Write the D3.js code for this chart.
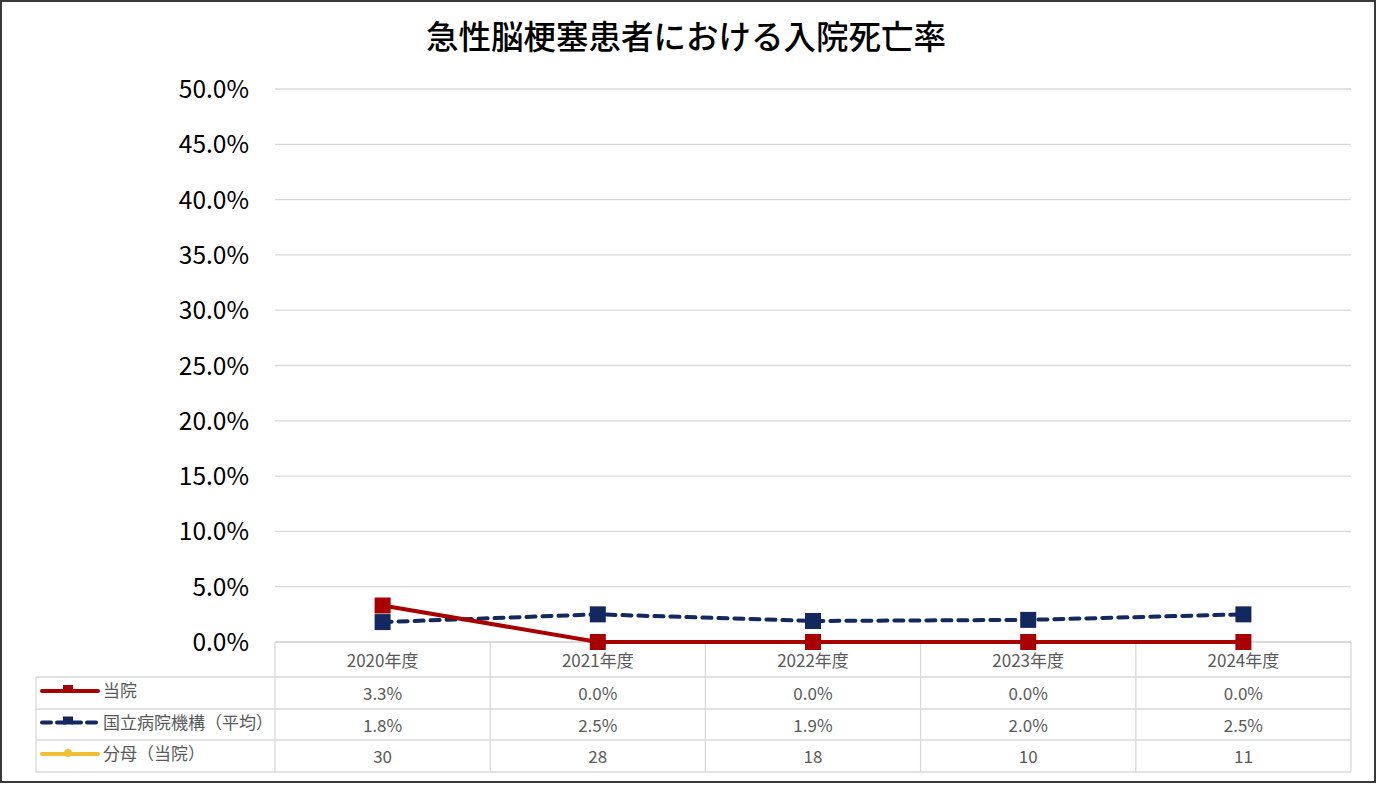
<!DOCTYPE html>
<html>
<head>
<meta charset="utf-8">
<script src="https://cdn.jsdelivr.net/npm/d3@7"></script>
<style>
  body { margin: 0; background: #fff; }
  text { font-family: "Noto Sans CJK JP", "Noto Sans", sans-serif; }
</style>
</head>
<body>
<svg id="chart" width="1377" height="785"></svg>
<script>
// data
var years = ["2020年度", "2021年度", "2022年度", "2023年度", "2024年度"];
var hospital = [3.3, 0.0, 0.0, 0.0, 0.0];
var national = [1.8, 2.5, 1.9, 2.0, 2.5];
var denominator = [30, 28, 18, 10, 11];
var yTicks = [0, 5, 10, 15, 20, 25, 30, 35, 40, 45, 50];

var svg = d3.select("#chart");

// frame
svg.append("rect")
  .attr("x", 1).attr("y", 1).attr("width", 1374).attr("height", 781)
  .attr("fill", "#fff").attr("stroke", "#3a3a3a").attr("stroke-width", 2);

svg.append("text")
  .attr("x", 686).attr("y", 49)
  .attr("text-anchor", "middle")
  .attr("font-size", 32.5).attr("font-weight", 500)
  .attr("fill", "#000")
  .text("急性脳梗塞患者における入院死亡率");

var plotL = 275, plotR = 1351, plotT = 89, plotB = 642;

var x = d3.scaleBand().domain(years).range([plotL, plotR]);
var y = d3.scaleLinear().domain([0, 50]).range([plotB, plotT]);

// gridlines
svg.append("g").selectAll("line").data(yTicks).join("line")
  .attr("x1", plotL).attr("x2", plotR)
  .attr("y1", d => y(d)).attr("y2", d => y(d))
  .attr("stroke", "#d9d9d9").attr("stroke-width", 1.3);

// y axis labels
var yAxis = d3.axisLeft(y).tickValues(yTicks).tickSize(0).tickPadding(0)
  .tickFormat(d => d.toFixed(1) + "%");
var gy = svg.append("g").attr("transform", "translate(249,0)").call(yAxis);
gy.select(".domain").remove();
gy.selectAll("text")
  .attr("font-size", 24.5).attr("fill", "#000")
  .attr("font-family", "'Noto Sans', sans-serif")
  .attr("dy", "0.35em");

// data table
var rowsY = [642, 677, 709, 740, 772];
var tableL = 36;
var grid = svg.append("g").attr("stroke", "#d9d9d9").attr("stroke-width", 1.3);
rowsY.forEach(function (ry, i) {
  grid.append("line")
    .attr("x1", i === 0 ? plotL : tableL).attr("x2", plotR)
    .attr("y1", ry).attr("y2", ry);
});
grid.append("line").attr("x1", tableL).attr("x2", tableL)
  .attr("y1", rowsY[1]).attr("y2", rowsY[4]);
years.forEach(function (yr) {
  grid.append("line").attr("x1", x(yr)).attr("x2", x(yr))
    .attr("y1", rowsY[0]).attr("y2", rowsY[4]);
});
grid.append("line").attr("x1", plotR).attr("x2", plotR)
  .attr("y1", rowsY[0]).attr("y2", rowsY[4]);

var cellText = svg.append("g")
  .attr("font-size", 17).attr("fill", "#595959").attr("text-anchor", "middle");
var cx = d => x(d) + x.bandwidth() / 2;
cellText.selectAll(".hdr").data(years).join("text")
  .attr("x", cx).attr("y", (rowsY[0] + rowsY[1]) / 2 + 7).text(d => d);
cellText.selectAll(".r1").data(hospital).join("text")
  .attr("x", (d, i) => cx(years[i])).attr("y", (rowsY[1] + rowsY[2]) / 2 + 7)
  .text(d => d.toFixed(1) + "%");
cellText.selectAll(".r2").data(national).join("text")
  .attr("x", (d, i) => cx(years[i])).attr("y", (rowsY[2] + rowsY[3]) / 2 + 7)
  .text(d => d.toFixed(1) + "%");
cellText.selectAll(".r3").data(denominator).join("text")
  .attr("x", (d, i) => cx(years[i])).attr("y", (rowsY[3] + rowsY[4]) / 2 + 7)
  .text(d => d);

// legend keys in the table
var red = "#A80000", navy = "#13285F", yellow = "#F2BE32";
var keys = [
  { name: "当院", color: red, dash: null, marker: "square" },
  { name: "国立病院機構（平均）", color: navy, dash: "9,6", marker: "square" },
  { name: "分母（当院）", color: yellow, dash: null, marker: "circle" }
];
keys.forEach(function (k, i) {
  var ky = (rowsY[i + 1] + rowsY[i + 2]) / 2 - 2;
  svg.append("line")
    .attr("x1", 42).attr("x2", 98).attr("y1", ky).attr("y2", ky)
    .attr("stroke", k.color).attr("stroke-width", 4)
    .attr("stroke-linecap", "round")
    .attr("stroke-dasharray", k.dash);
  if (k.marker === "square") {
    svg.append("rect").attr("x", 63).attr("y", ky - 6).attr("width", 10).attr("height", 8)
      .attr("fill", k.color);
  } else {
    svg.append("circle").attr("cx", 68).attr("cy", ky - 1).attr("r", 4).attr("fill", k.color);
  }
  svg.append("text")
    .attr("x", 103).attr("y", ky + 6)
    .attr("font-size", 17).attr("fill", "#595959")
    .text(k.name);
});

// series lines
var line = d3.line().x((d, i) => cx(years[i])).y(d => y(d));

svg.append("path").datum(national)
  .attr("d", line).attr("fill", "none")
  .attr("stroke", navy).attr("stroke-width", 4)
  .attr("stroke-dasharray", "9,7").attr("stroke-linecap", "round");
svg.selectAll(".mn").data(national).join("rect")
  .attr("x", (d, i) => cx(years[i]) - 8).attr("y", d => y(d) - 8)
  .attr("width", 16).attr("height", 16).attr("fill", navy);

svg.append("path").datum(hospital)
  .attr("d", line).attr("fill", "none")
  .attr("stroke", red).attr("stroke-width", 4);
svg.selectAll(".mh").data(hospital).join("rect")
  .attr("x", (d, i) => cx(years[i]) - 8).attr("y", d => y(d) - 8)
  .attr("width", 16).attr("height", 16).attr("fill", red);
</script>
</body>
</html>
